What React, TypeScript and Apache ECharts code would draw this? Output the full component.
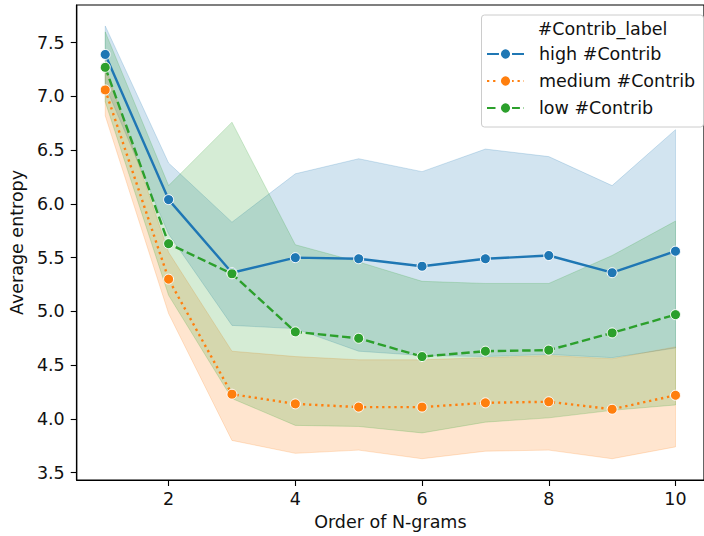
import React, { useEffect, useRef } from "react";
import * as echarts from "echarts";

const orders = [1, 2, 3, 4, 5, 6, 7, 8, 9, 10];
const xTicks = [2, 4, 6, 8, 10];
const yTicks = [3.5, 4.0, 4.5, 5.0, 5.5, 6.0, 6.5, 7.0, 7.5];

const highMean = [7.39, 6.04, 5.36, 5.50, 5.49, 5.42, 5.49, 5.52, 5.36, 5.56];
const highLo = [7.10, 5.72, 4.87, 4.84, 4.63, 4.59, 4.58, 4.60, 4.57, 4.66];
const highHi = [7.655, 6.38, 5.83, 6.28, 6.42, 6.30, 6.51, 6.44, 6.17, 6.69];

const medMean = [7.06, 5.30, 4.23, 4.14, 4.11, 4.11, 4.15, 4.16, 4.09, 4.22];
const medLo = [6.82, 4.98, 3.80, 3.68, 3.71, 3.63, 3.70, 3.71, 3.63, 3.74];
const medHi = [7.28, 5.55, 4.63, 4.58, 4.55, 4.55, 4.57, 4.59, 4.56, 4.67];

const lowMean = [7.27, 5.63, 5.35, 4.81, 4.75, 4.58, 4.63, 4.64, 4.80, 4.97];
const lowLo = [6.95, 5.15, 4.19, 3.94, 3.93, 3.87, 3.97, 4.01, 4.08, 4.13];
const lowHi = [7.60, 6.17, 6.76, 5.62, 5.46, 5.28, 5.26, 5.26, 5.52, 5.84];

const groups = [
  { name: "high #Contrib", color: "#1f77b4", rgb: "31,119,180", mean: highMean, lo: highLo, hi: highHi, dash: "solid" as any },
  { name: "medium #Contrib", color: "#ff7f0e", rgb: "255,127,14", mean: medMean, lo: medLo, hi: medHi, dash: [2.3, 3.8] as any },
  { name: "low #Contrib", color: "#2ca02c", rgb: "44,160,44", mean: lowMean, lo: lowLo, hi: lowHi, dash: [8.5, 3.7] as any },
];

const FONT = "DejaVu Sans";
const FS = 17.5;

export default function App() {
  const ref = useRef<HTMLDivElement>(null);
  useEffect(() => {
    if (!ref.current) return;
    const chart = echarts.init(ref.current, undefined, { renderer: "svg" });
    const series: any[] = [];
    groups.forEach((g) => {
      const rows = orders.map((x, i) => [x, g.lo[i], g.hi[i]]);
      series.push({
        type: "custom",
        name: g.name + " band",
        data: rows,
        silent: true,
        z: 1,
        clip: true,
        renderItem: (params: any, api: any) => {
          if (params.dataIndex !== 0) return null;
          const upper = rows.map((r) => api.coord([r[0], r[2]]));
          const lower = rows.map((r) => api.coord([r[0], r[1]])).reverse();
          return {
            type: "polygon",
            shape: { points: upper.concat(lower) },
            style: { fill: `rgba(${g.rgb},0.2)`, stroke: `rgba(${g.rgb},0.2)`, lineWidth: 1 },
          };
        },
      });
    });
    groups.forEach((g) => {
      series.push({
        type: "line",
        name: g.name,
        data: orders.map((x, i) => [x, g.mean[i]]),
        symbol: "circle",
        symbolSize: 10,
        itemStyle: { color: g.color, borderColor: "#fff", borderWidth: 1 },
        lineStyle: { color: g.color, width: 2.4, type: g.dash, cap: "butt" },
        z: 2,
      });
    });
    chart.setOption({
      animation: false,
      backgroundColor: "#fff",
      grid: { left: 75, top: 5, bottom: 56, right: -9, show: true, borderColor: "#000", borderWidth: 1.2, backgroundColor: "transparent" },
      xAxis: {
        type: "value",
        min: 0.55,
        max: 10.45,
        name: "Order of N-grams",
        nameLocation: "middle",
        nameGap: 31,
        nameTextStyle: { fontFamily: FONT, fontSize: FS, color: "#111" },
        axisLine: { show: true, onZero: false, lineStyle: { color: "#000", width: 1.2 } },
        axisTick: { show: true, length: 6, customValues: xTicks, lineStyle: { color: "#000", width: 1.1 } },
        axisLabel: { customValues: xTicks, margin: 10, fontFamily: FONT, fontSize: FS, color: "#111" },
        splitLine: { show: false },
      },
      yAxis: {
        type: "value",
        min: 3.432,
        max: 7.85,
        name: "Average entropy",
        nameLocation: "middle",
        nameGap: 48,
        nameTextStyle: { fontFamily: FONT, fontSize: FS, color: "#111" },
        axisLine: { show: true, onZero: false, lineStyle: { color: "#000", width: 1.2 } },
        axisTick: { show: true, length: 6, customValues: yTicks, lineStyle: { color: "#000", width: 1.1 } },
        axisLabel: { customValues: yTicks, margin: 12, fontFamily: FONT, fontSize: FS, color: "#111", formatter: (v: number) => v.toFixed(1) },
        splitLine: { show: false },
      },
      legend: {
        data: groups.map((g) => g.name),
        orient: "vertical",
        left: 486,
        top: 44,
        padding: 0,
        itemGap: 7,
        itemWidth: 37,
        itemHeight: 14,
        z: 4,
        textStyle: { fontFamily: FONT, fontSize: FS, color: "#111", lineHeight: 20, padding: [0, 0, 0, 10] },
      },
      graphic: [
        {
          type: "rect",
          shape: { x: 481.5, y: 15, width: 222, height: 112, r: 3 },
          style: { fill: "rgba(255,255,255,0.8)", stroke: "#ccc", lineWidth: 1 },
          z: 3,
        },
        {
          type: "text",
          x: 537.7,
          y: 28.5,
          style: { text: "#Contrib_label", fontFamily: FONT, fontSize: FS, fill: "#111", verticalAlign: "middle" },
          z: 4,
        },
      ],
      series,
    });
    return () => chart.dispose();
  }, []);
  return <div ref={ref} style={{ position: "fixed", left: 0, top: 0, width: 704, height: 536 }} />;
}
